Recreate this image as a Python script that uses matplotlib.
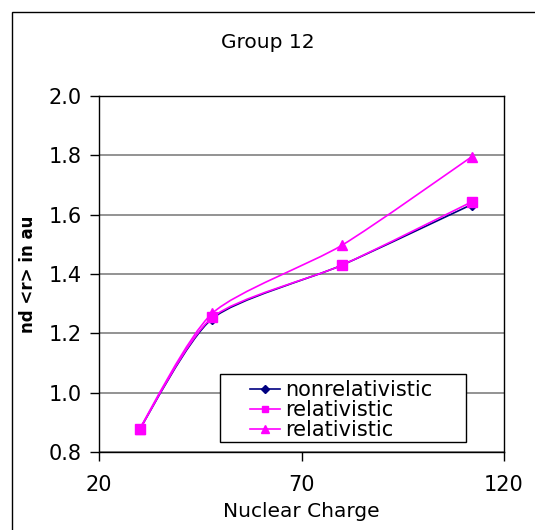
import matplotlib
matplotlib.use("Agg")
import matplotlib.pyplot as plt
from matplotlib.path import Path
from matplotlib.patches import PathPatch, Rectangle
from matplotlib.lines import Line2D
import numpy as np

plt.rcParams['font.family'] = ['DejaVu Sans']

nuclear_charge = [30, 48, 80, 112]
nonrelativistic = [0.876, 1.250, 1.430, 1.634]
relativistic_sq = [0.876, 1.254, 1.430, 1.643]
relativistic_tri = [0.878, 1.268, 1.497, 1.795]
series_labels = ["nonrelativistic", "relativistic", "relativistic"]
x_ticks = [20, 70, 120]
y_ticks = [0.8, 1.0, 1.2, 1.4, 1.6, 1.8, 2.0]

W, H = 535, 530
fig = plt.figure(figsize=(W / 100, H / 100), dpi=100)
ax = fig.add_axes([99 / W, 1 - 452 / H, (504 - 99) / W, (452 - 96) / H])


def smooth_path(xs, ys, t=0.12):
    xs = np.asarray(xs, float)
    ys = np.asarray(ys, float)
    n = len(xs)
    verts = [(xs[0], ys[0])]
    codes = [Path.MOVETO]
    for i in range(n - 1):
        p0 = (xs[max(i - 1, 0)], ys[max(i - 1, 0)])
        p1 = (xs[i], ys[i])
        p2 = (xs[i + 1], ys[i + 1])
        p3 = (xs[min(i + 2, n - 1)], ys[min(i + 2, n - 1)])
        c1 = (p1[0] + (p2[0] - p0[0]) * t, p1[1] + (p2[1] - p0[1]) * t)
        c2 = (p2[0] - (p3[0] - p1[0]) * t, p2[1] - (p3[1] - p1[1]) * t)
        verts += [c1, c2, p2]
        codes += [Path.CURVE4] * 3
    return Path(verts, codes)


navy = "#000080"
mag = "#FF00FF"
series = [
    (nonrelativistic, navy, "D", 5),
    (relativistic_sq, mag, "s", 6.5),
    (relativistic_tri, mag, "^", 7),
]
for ys, col, mk, ms in series:
    ax.add_patch(PathPatch(smooth_path(nuclear_charge, ys), fill=False,
                           edgecolor=col, lw=1.2, zorder=3))
for ys, col, mk, ms in series:
    ax.plot(nuclear_charge, ys, linestyle="none", marker=mk, color=col,
            markersize=ms, zorder=4)

ax.set_xlim(20, 120)
ax.set_ylim(0.8, 2.0)
ax.set_xticks(x_ticks)
ax.set_yticks(y_ticks)
ax.set_yticklabels([f"{v:.1f}" for v in y_ticks])
ax.yaxis.grid(True, color="#808080", lw=1.2)
ax.set_axisbelow(True)
for s in ax.spines.values():
    s.set_color("black")
    s.set_linewidth(1.0)
ax.tick_params(axis="both", direction="out", length=6.5, width=1, labelsize=15,
               colors="black")
ax.tick_params(axis="x", pad=10)
ax.tick_params(axis="y", pad=6)

ax.set_xlabel("Nuclear Charge", fontsize=14.5, labelpad=5)
ax.set_ylabel("nd <r> in au", fontsize=12, fontweight="bold", labelpad=8)

fig.text(268 / W, 1 - 42 / H, "Group 12", fontsize=14.5, ha="center", va="center")

# outer chart frame
fig.add_artist(Rectangle((11.5 / W, -0.05), 1.2, 1 - 11.5 / H + 0.05,
                         transform=fig.transFigure, fill=False,
                         edgecolor="black", lw=1.0))

# legend frame (inside the axes so the legend draws above it)
legbox = Rectangle((220 / W, 1 - 442 / H), (466 - 220) / W, (442 - 374) / H,
                   transform=fig.transFigure, facecolor="white",
                   edgecolor="black", lw=1.0, zorder=5, clip_on=False)
ax.add_artist(legbox)

handles = [Line2D([0], [0], color=col, marker=mk, markersize=ms * 0.75, lw=1.2)
           for _, col, mk, ms in series]
leg = ax.legend(handles, series_labels, loc="upper left",
                bbox_to_anchor=(248 / W, 1 - 378 / H),
                bbox_transform=fig.transFigure, fontsize=15, frameon=False,
                labelspacing=0.0, handlelength=1.45, handletextpad=0.25,
                borderpad=0.1, borderaxespad=0)
leg.set_zorder(6)

fig.savefig("out.png", dpi=100)
